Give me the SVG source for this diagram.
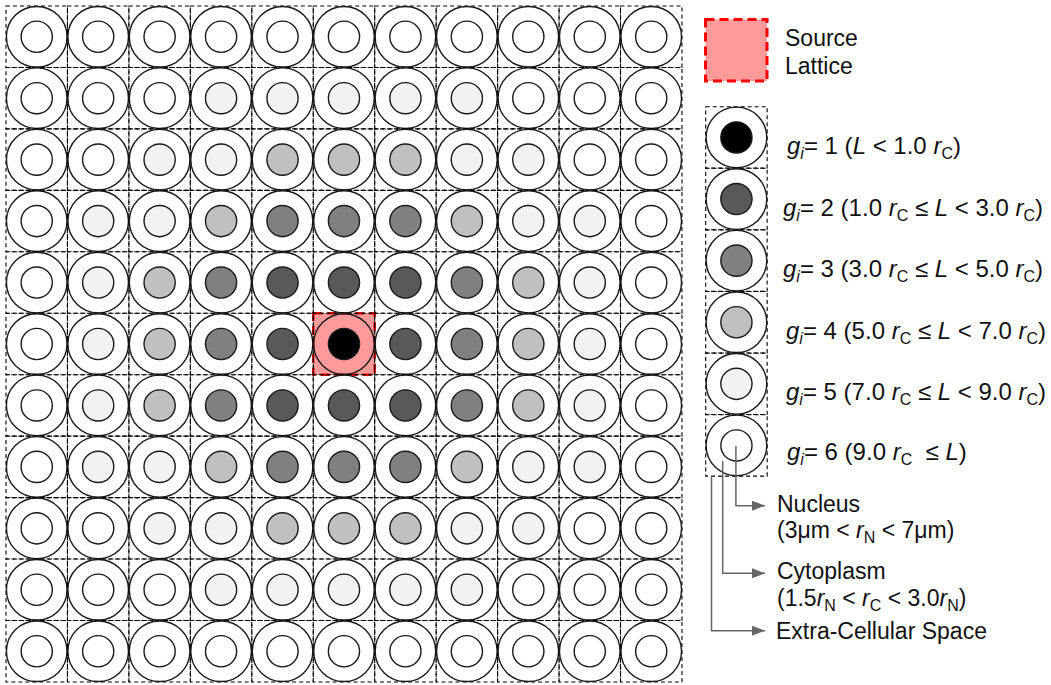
<svg xmlns="http://www.w3.org/2000/svg" xmlns:xlink="http://www.w3.org/1999/xlink" width="1051" height="685" viewBox="0 0 1051 685">
<style>
.cell{fill:none;stroke:#000;stroke-width:1.1;stroke-dasharray:4 3}
.out{fill:none;stroke:#1a1a1a;stroke-width:1.4}
.in{stroke:#1a1a1a;stroke-width:1.4}
.t{font-family:"Liberation Sans",Arial,sans-serif;font-size:23px;fill:#111}
.lg{font-size:24px}
.it{font-style:italic}
.sub{font-size:16px}
.conn{fill:none;stroke:#666;stroke-width:1.5}
</style>
<defs>
<marker id="arr" markerWidth="14" markerHeight="10" refX="13" refY="5" orient="auto" markerUnits="userSpaceOnUse">
<path d="M0,0 L13,5 L0,10 Z" fill="#666"/>
</marker>
<g id="g1"><rect class="cell" width="61.45" height="61.45"/><circle class="out" cx="30.725" cy="30.725" r="30.3"/><circle class="in" cx="30.725" cy="30.725" r="15.6" fill="#000"/></g>
<g id="g2"><rect class="cell" width="61.45" height="61.45"/><circle class="out" cx="30.725" cy="30.725" r="30.3"/><circle class="in" cx="30.725" cy="30.725" r="15.6" fill="#595959"/></g>
<g id="g3"><rect class="cell" width="61.45" height="61.45"/><circle class="out" cx="30.725" cy="30.725" r="30.3"/><circle class="in" cx="30.725" cy="30.725" r="15.6" fill="#808080"/></g>
<g id="g4"><rect class="cell" width="61.45" height="61.45"/><circle class="out" cx="30.725" cy="30.725" r="30.3"/><circle class="in" cx="30.725" cy="30.725" r="15.6" fill="#c0c0c0"/></g>
<g id="g5"><rect class="cell" width="61.45" height="61.45"/><circle class="out" cx="30.725" cy="30.725" r="30.3"/><circle class="in" cx="30.725" cy="30.725" r="15.6" fill="#f2f2f2"/></g>
<g id="g6"><rect class="cell" width="61.45" height="61.45"/><circle class="out" cx="30.725" cy="30.725" r="30.3"/><circle class="in" cx="30.725" cy="30.725" r="15.6" fill="#fff"/></g>
</defs>
<rect width="1051" height="685" fill="#fff"/>

<g id="source-cell">
<rect x="313.25" y="313.25" width="61.45" height="61.45" fill="#ff9a9a" stroke="#ff0000" stroke-width="2.5" stroke-dasharray="9 5"/>
</g>

<g id="lattice">
<g id="row0">
<use id="c0-0" xlink:href="#g6" x="6" y="6"/><use id="c0-1" xlink:href="#g6" x="67.45" y="6"/><use id="c0-2" xlink:href="#g6" x="128.9" y="6"/><use id="c0-3" xlink:href="#g6" x="190.35" y="6"/><use id="c0-4" xlink:href="#g6" x="251.8" y="6"/><use id="c0-5" xlink:href="#g6" x="313.25" y="6"/><use id="c0-6" xlink:href="#g6" x="374.7" y="6"/><use id="c0-7" xlink:href="#g6" x="436.15" y="6"/><use id="c0-8" xlink:href="#g6" x="497.6" y="6"/><use id="c0-9" xlink:href="#g6" x="559.05" y="6"/><use id="c0-10" xlink:href="#g6" x="620.5" y="6"/>
</g>
<g id="row1">
<use id="c1-0" xlink:href="#g6" x="6" y="67.45"/><use id="c1-1" xlink:href="#g6" x="67.45" y="67.45"/><use id="c1-2" xlink:href="#g6" x="128.9" y="67.45"/><use id="c1-3" xlink:href="#g5" x="190.35" y="67.45"/><use id="c1-4" xlink:href="#g5" x="251.8" y="67.45"/><use id="c1-5" xlink:href="#g5" x="313.25" y="67.45"/><use id="c1-6" xlink:href="#g5" x="374.7" y="67.45"/><use id="c1-7" xlink:href="#g5" x="436.15" y="67.45"/><use id="c1-8" xlink:href="#g6" x="497.6" y="67.45"/><use id="c1-9" xlink:href="#g6" x="559.05" y="67.45"/><use id="c1-10" xlink:href="#g6" x="620.5" y="67.45"/>
</g>
<g id="row2">
<use id="c2-0" xlink:href="#g6" x="6" y="128.9"/><use id="c2-1" xlink:href="#g6" x="67.45" y="128.9"/><use id="c2-2" xlink:href="#g5" x="128.9" y="128.9"/><use id="c2-3" xlink:href="#g5" x="190.35" y="128.9"/><use id="c2-4" xlink:href="#g4" x="251.8" y="128.9"/><use id="c2-5" xlink:href="#g4" x="313.25" y="128.9"/><use id="c2-6" xlink:href="#g4" x="374.7" y="128.9"/><use id="c2-7" xlink:href="#g5" x="436.15" y="128.9"/><use id="c2-8" xlink:href="#g5" x="497.6" y="128.9"/><use id="c2-9" xlink:href="#g6" x="559.05" y="128.9"/><use id="c2-10" xlink:href="#g6" x="620.5" y="128.9"/>
</g>
<g id="row3">
<use id="c3-0" xlink:href="#g6" x="6" y="190.35"/><use id="c3-1" xlink:href="#g5" x="67.45" y="190.35"/><use id="c3-2" xlink:href="#g5" x="128.9" y="190.35"/><use id="c3-3" xlink:href="#g4" x="190.35" y="190.35"/><use id="c3-4" xlink:href="#g3" x="251.8" y="190.35"/><use id="c3-5" xlink:href="#g3" x="313.25" y="190.35"/><use id="c3-6" xlink:href="#g3" x="374.7" y="190.35"/><use id="c3-7" xlink:href="#g4" x="436.15" y="190.35"/><use id="c3-8" xlink:href="#g5" x="497.6" y="190.35"/><use id="c3-9" xlink:href="#g5" x="559.05" y="190.35"/><use id="c3-10" xlink:href="#g6" x="620.5" y="190.35"/>
</g>
<g id="row4">
<use id="c4-0" xlink:href="#g6" x="6" y="251.8"/><use id="c4-1" xlink:href="#g5" x="67.45" y="251.8"/><use id="c4-2" xlink:href="#g4" x="128.9" y="251.8"/><use id="c4-3" xlink:href="#g3" x="190.35" y="251.8"/><use id="c4-4" xlink:href="#g2" x="251.8" y="251.8"/><use id="c4-5" xlink:href="#g2" x="313.25" y="251.8"/><use id="c4-6" xlink:href="#g2" x="374.7" y="251.8"/><use id="c4-7" xlink:href="#g3" x="436.15" y="251.8"/><use id="c4-8" xlink:href="#g4" x="497.6" y="251.8"/><use id="c4-9" xlink:href="#g5" x="559.05" y="251.8"/><use id="c4-10" xlink:href="#g6" x="620.5" y="251.8"/>
</g>
<g id="row5">
<use id="c5-0" xlink:href="#g6" x="6" y="313.25"/><use id="c5-1" xlink:href="#g5" x="67.45" y="313.25"/><use id="c5-2" xlink:href="#g4" x="128.9" y="313.25"/><use id="c5-3" xlink:href="#g3" x="190.35" y="313.25"/><use id="c5-4" xlink:href="#g2" x="251.8" y="313.25"/><use id="c5-5" xlink:href="#g1" x="313.25" y="313.25"/><use id="c5-6" xlink:href="#g2" x="374.7" y="313.25"/><use id="c5-7" xlink:href="#g3" x="436.15" y="313.25"/><use id="c5-8" xlink:href="#g4" x="497.6" y="313.25"/><use id="c5-9" xlink:href="#g5" x="559.05" y="313.25"/><use id="c5-10" xlink:href="#g6" x="620.5" y="313.25"/>
</g>
<g id="row6">
<use id="c6-0" xlink:href="#g6" x="6" y="374.7"/><use id="c6-1" xlink:href="#g5" x="67.45" y="374.7"/><use id="c6-2" xlink:href="#g4" x="128.9" y="374.7"/><use id="c6-3" xlink:href="#g3" x="190.35" y="374.7"/><use id="c6-4" xlink:href="#g2" x="251.8" y="374.7"/><use id="c6-5" xlink:href="#g2" x="313.25" y="374.7"/><use id="c6-6" xlink:href="#g2" x="374.7" y="374.7"/><use id="c6-7" xlink:href="#g3" x="436.15" y="374.7"/><use id="c6-8" xlink:href="#g4" x="497.6" y="374.7"/><use id="c6-9" xlink:href="#g5" x="559.05" y="374.7"/><use id="c6-10" xlink:href="#g6" x="620.5" y="374.7"/>
</g>
<g id="row7">
<use id="c7-0" xlink:href="#g6" x="6" y="436.15"/><use id="c7-1" xlink:href="#g5" x="67.45" y="436.15"/><use id="c7-2" xlink:href="#g5" x="128.9" y="436.15"/><use id="c7-3" xlink:href="#g4" x="190.35" y="436.15"/><use id="c7-4" xlink:href="#g3" x="251.8" y="436.15"/><use id="c7-5" xlink:href="#g3" x="313.25" y="436.15"/><use id="c7-6" xlink:href="#g3" x="374.7" y="436.15"/><use id="c7-7" xlink:href="#g4" x="436.15" y="436.15"/><use id="c7-8" xlink:href="#g5" x="497.6" y="436.15"/><use id="c7-9" xlink:href="#g5" x="559.05" y="436.15"/><use id="c7-10" xlink:href="#g6" x="620.5" y="436.15"/>
</g>
<g id="row8">
<use id="c8-0" xlink:href="#g6" x="6" y="497.6"/><use id="c8-1" xlink:href="#g6" x="67.45" y="497.6"/><use id="c8-2" xlink:href="#g5" x="128.9" y="497.6"/><use id="c8-3" xlink:href="#g5" x="190.35" y="497.6"/><use id="c8-4" xlink:href="#g4" x="251.8" y="497.6"/><use id="c8-5" xlink:href="#g4" x="313.25" y="497.6"/><use id="c8-6" xlink:href="#g4" x="374.7" y="497.6"/><use id="c8-7" xlink:href="#g5" x="436.15" y="497.6"/><use id="c8-8" xlink:href="#g5" x="497.6" y="497.6"/><use id="c8-9" xlink:href="#g6" x="559.05" y="497.6"/><use id="c8-10" xlink:href="#g6" x="620.5" y="497.6"/>
</g>
<g id="row9">
<use id="c9-0" xlink:href="#g6" x="6" y="559.05"/><use id="c9-1" xlink:href="#g6" x="67.45" y="559.05"/><use id="c9-2" xlink:href="#g6" x="128.9" y="559.05"/><use id="c9-3" xlink:href="#g5" x="190.35" y="559.05"/><use id="c9-4" xlink:href="#g5" x="251.8" y="559.05"/><use id="c9-5" xlink:href="#g5" x="313.25" y="559.05"/><use id="c9-6" xlink:href="#g5" x="374.7" y="559.05"/><use id="c9-7" xlink:href="#g5" x="436.15" y="559.05"/><use id="c9-8" xlink:href="#g6" x="497.6" y="559.05"/><use id="c9-9" xlink:href="#g6" x="559.05" y="559.05"/><use id="c9-10" xlink:href="#g6" x="620.5" y="559.05"/>
</g>
<g id="row10">
<use id="c10-0" xlink:href="#g6" x="6" y="620.5"/><use id="c10-1" xlink:href="#g6" x="67.45" y="620.5"/><use id="c10-2" xlink:href="#g6" x="128.9" y="620.5"/><use id="c10-3" xlink:href="#g6" x="190.35" y="620.5"/><use id="c10-4" xlink:href="#g6" x="251.8" y="620.5"/><use id="c10-5" xlink:href="#g6" x="313.25" y="620.5"/><use id="c10-6" xlink:href="#g6" x="374.7" y="620.5"/><use id="c10-7" xlink:href="#g6" x="436.15" y="620.5"/><use id="c10-8" xlink:href="#g6" x="497.6" y="620.5"/><use id="c10-9" xlink:href="#g6" x="559.05" y="620.5"/><use id="c10-10" xlink:href="#g6" x="620.5" y="620.5"/>
</g>
</g>

<g id="legend-source">
<rect x="705.5" y="19.5" width="61.5" height="61.5" fill="#ff9a9a" stroke="#ff0000" stroke-width="3" stroke-dasharray="9 5"/>
<text class="t" x="785" y="46">Source</text>
<text class="t" x="785" y="74">Lattice</text>
</g>

<g id="legend-g1"><use xlink:href="#g1" x="705.7" y="106.7"/>
<text class="t lg" x="787" y="154"><tspan class="it">g</tspan><tspan class="it sub" dy="5">i</tspan><tspan dy="-5">= 1 (</tspan><tspan class="it">L</tspan> &lt; 1.0 <tspan class="it">r</tspan><tspan class="sub" dy="5">C</tspan><tspan dy="-5">)</tspan></text></g>
<g id="legend-g2"><use xlink:href="#g2" x="705.7" y="168.3"/>
<text class="t lg" x="783" y="215.5"><tspan class="it">g</tspan><tspan class="it sub" dy="5">i</tspan><tspan dy="-5">= 2 (1.0 </tspan><tspan class="it">r</tspan><tspan class="sub" dy="5">C</tspan><tspan dy="-5"> ≤ </tspan><tspan class="it">L</tspan> &lt; 3.0 <tspan class="it">r</tspan><tspan class="sub" dy="5">C</tspan><tspan dy="-5">)</tspan></text></g>
<g id="legend-g3"><use xlink:href="#g3" x="705.7" y="229.9"/>
<text class="t lg" x="783" y="277"><tspan class="it">g</tspan><tspan class="it sub" dy="5">i</tspan><tspan dy="-5">= 3 (3.0 </tspan><tspan class="it">r</tspan><tspan class="sub" dy="5">C</tspan><tspan dy="-5"> ≤ </tspan><tspan class="it">L</tspan> &lt; 5.0 <tspan class="it">r</tspan><tspan class="sub" dy="5">C</tspan><tspan dy="-5">)</tspan></text></g>
<g id="legend-g4"><use xlink:href="#g4" x="705.7" y="291.5"/>
<text class="t lg" x="786" y="338.5"><tspan class="it">g</tspan><tspan class="it sub" dy="5">i</tspan><tspan dy="-5">= 4 (5.0 </tspan><tspan class="it">r</tspan><tspan class="sub" dy="5">C</tspan><tspan dy="-5"> ≤ </tspan><tspan class="it">L</tspan> &lt; 7.0 <tspan class="it">r</tspan><tspan class="sub" dy="5">C</tspan><tspan dy="-5">)</tspan></text></g>
<g id="legend-g5"><use xlink:href="#g5" x="705.7" y="353.1"/>
<text class="t lg" x="786" y="400"><tspan class="it">g</tspan><tspan class="it sub" dy="5">i</tspan><tspan dy="-5">= 5 (7.0 </tspan><tspan class="it">r</tspan><tspan class="sub" dy="5">C</tspan><tspan dy="-5"> ≤ </tspan><tspan class="it">L</tspan> &lt; 9.0 <tspan class="it">r</tspan><tspan class="sub" dy="5">C</tspan><tspan dy="-5">)</tspan></text></g>
<g id="legend-g6"><use xlink:href="#g6" x="705.7" y="414.7"/>
<text class="t lg" x="787" y="459.5"><tspan class="it">g</tspan><tspan class="it sub" dy="5">i</tspan><tspan dy="-5">= 6 (9.0 </tspan><tspan class="it">r</tspan><tspan class="sub" dy="5">C</tspan><tspan dy="-5" xml:space="preserve">  ≤ </tspan><tspan class="it">L</tspan>)</text></g>

<g id="connectors">
<path class="conn" d="M735.9,446 V505.7 H765" marker-end="url(#arr)"/>
<path class="conn" d="M722.7,461 V573.3 H765" marker-end="url(#arr)"/>
<path class="conn" d="M711.5,476.5 V630.7 H765" marker-end="url(#arr)"/>
</g>

<g id="label-nucleus">
<text class="t" x="777" y="512">Nucleus</text>
<text class="t" x="777" y="537.7">(3μm &lt; <tspan class="it">r</tspan><tspan class="sub" dy="5">N</tspan><tspan dy="-5"> &lt; 7μm)</tspan></text>
</g>
<g id="label-cytoplasm">
<text class="t" x="777" y="579">Cytoplasm</text>
<text class="t" x="777" y="605.5">(1.5<tspan class="it">r</tspan><tspan class="sub" dy="5">N</tspan><tspan dy="-5"> &lt; </tspan><tspan class="it">r</tspan><tspan class="sub" dy="5">C</tspan><tspan dy="-5"> &lt; 3.0</tspan><tspan class="it">r</tspan><tspan class="sub" dy="5">N</tspan><tspan dy="-5">)</tspan></text>
</g>
<g id="label-ecs">
<text class="t" x="776" y="638.5">Extra-Cellular Space</text>
</g>
</svg>
